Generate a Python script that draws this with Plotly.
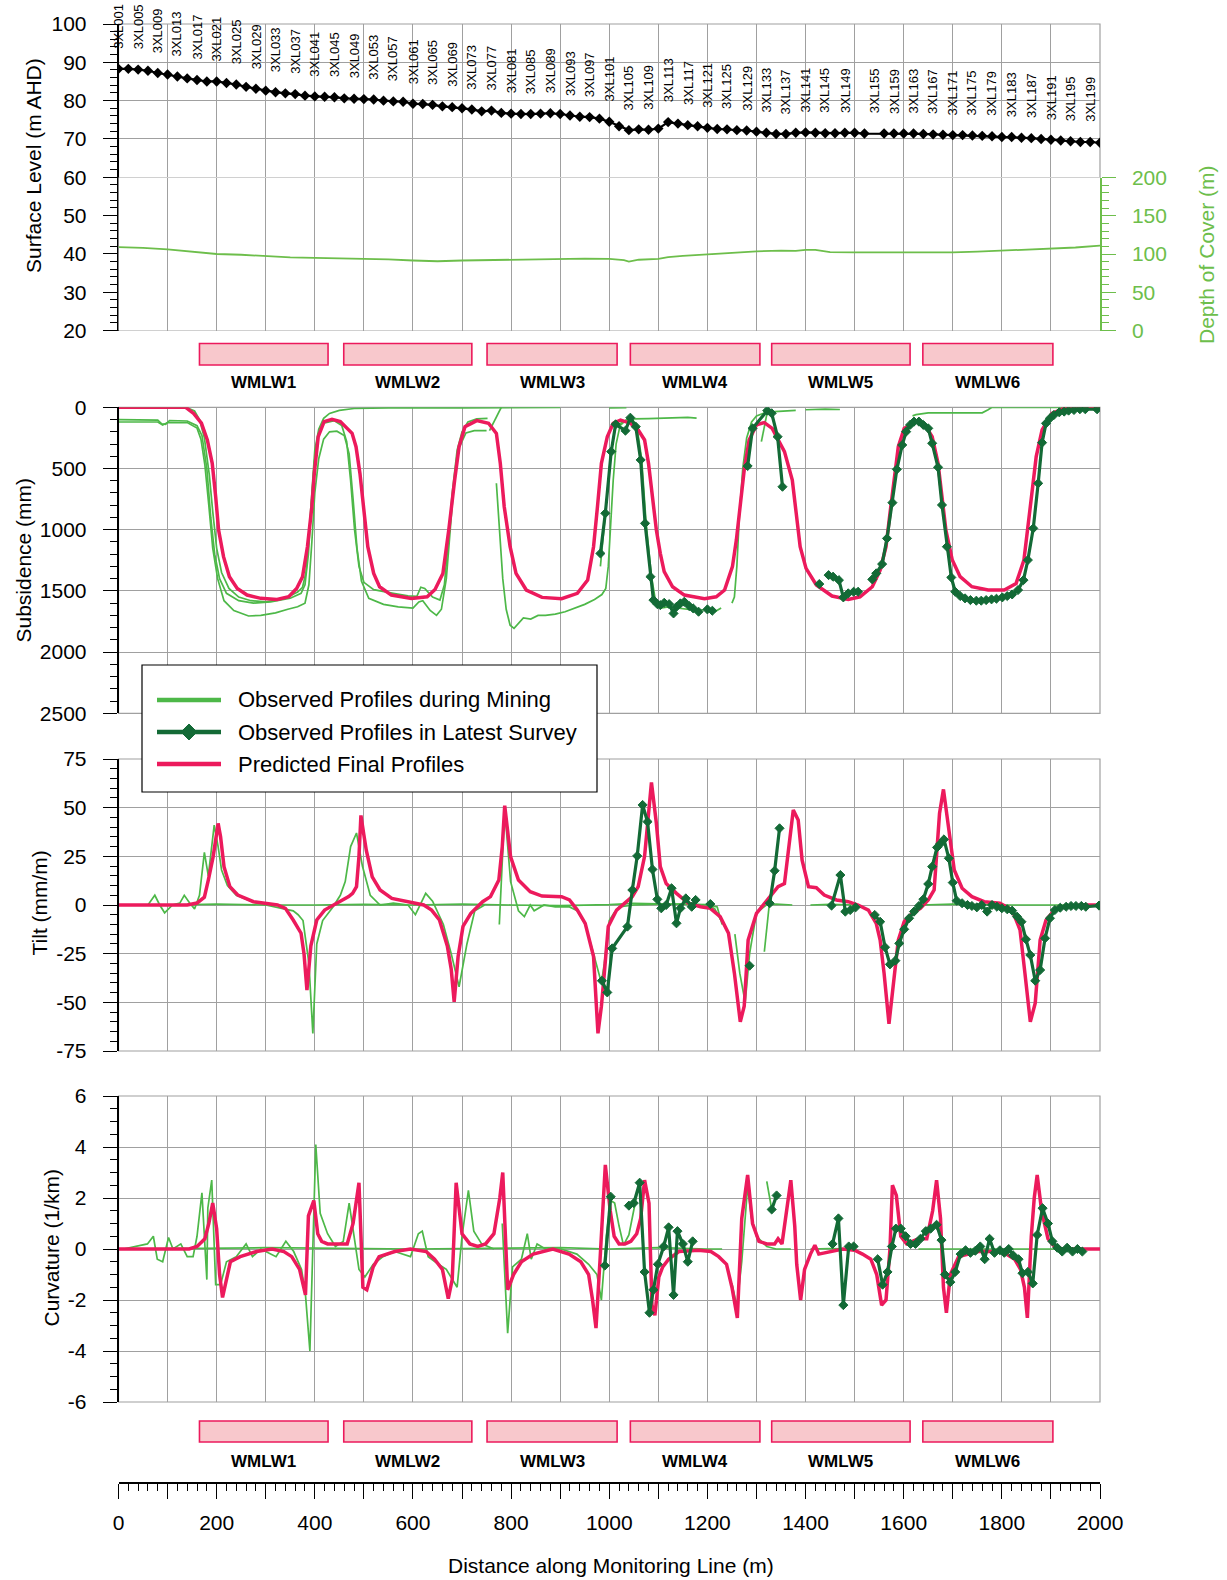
import numpy as np
import plotly.graph_objects as go

# ---------------- DATA ----------------
# Surface level (m AHD) along the line
surf_x = list(range(0, 1021, 20)) + list(range(1040, 1521, 20)) + list(range(1560, 2001, 20))
surf_y = [88.3, 88.3, 88.1, 87.8, 87.2, 86.8, 86.3, 85.8, 85.4, 85.0, 85.0, 84.6, 84.2, 83.6, 83.1,
          82.6, 82.2, 81.9, 81.7, 81.3, 81.1, 81.0, 80.9, 80.6, 80.5, 80.4, 80.3, 80.0, 79.8, 79.7,
          79.2, 79.1, 78.9, 78.5, 78.3, 78.0, 77.7, 77.2, 77.4, 76.8, 76.6, 76.5, 76.5, 76.6, 76.7,
          76.5, 76.1, 75.8, 75.7, 75.3, 74.5, 73.3,
          72.3, 72.5, 72.4, 72.7, 74.4, 74.0, 73.6, 73.3, 72.9, 72.6, 72.5, 72.3, 72.2, 71.9, 71.6,
          71.3, 71.3, 71.6, 71.7, 71.6, 71.5, 71.5, 71.6, 71.6, 71.4,
          71.4, 71.4, 71.4, 71.4, 71.3, 71.2, 71.1, 71.0, 71.0, 70.9, 70.8, 70.7, 70.5, 70.5, 70.3,
          70.2, 70.0, 69.8, 69.6, 69.4, 69.2, 69.2, 69.0]

# Depth of cover (m)
cover = [(0, 109), (50, 108), (100, 106), (150, 103), (200, 100), (250, 99), (300, 97), (350, 95.5),
         (400, 95), (450, 94.5), (500, 94), (550, 93), (600, 91.5), (650, 90.5), (700, 91.5), (750, 92),
         (800, 93), (850, 93.5), (900, 94), (950, 94), (1000, 93.5), (1030, 92), (1040, 90), (1060, 92.5),
         (1100, 93.5), (1120, 96), (1150, 97.5), (1200, 99.5), (1250, 102), (1300, 103.5), (1350, 104.5),
         (1380, 104), (1400, 105.5), (1420, 105.5), (1450, 102.5), (1500, 102), (1600, 102), (1700, 102),
         (1750, 103), (1800, 104.5), (1850, 105.5), (1900, 107), (1950, 108.5), (2000, 111)]

# Survey marks labelled on the top panel
station_ids = list(range(1, 150, 4)) + list(range(155, 200, 4))

# Longwall panels
panel_names = ["WMLW1", "WMLW2", "WMLW3", "WMLW4", "WMLW5", "WMLW6"]
panel_start = [165, 459, 751, 1043, 1331, 1639]
panel_end = [427, 720, 1016, 1307, 1613, 1904]

# Subsidence (mm)
sub_pred = [(0, 0), (100, 0), (137, 0), (153, 50), (169, 130), (181, 267), (191, 458), (198, 730), (204, 1003),
            (214, 1220), (226, 1384), (242, 1480), (262, 1534), (290, 1561), (323, 1570), (347, 1548), (363, 1480),
            (375, 1384), (385, 1139), (394, 812), (399, 540), (407, 240), (419, 117), (435, 98), (452, 117),
            (476, 213), (484, 322), (492, 540), (500, 867), (508, 1139), (520, 1357), (532, 1466), (556, 1534),
            (597, 1561), (629, 1548), (645, 1488), (661, 1357), (673, 1003), (685, 594), (694, 322), (706, 158),
            (730, 109), (754, 130), (770, 213), (778, 458), (786, 812), (798, 1139), (810, 1357), (831, 1493),
            (863, 1553), (903, 1564), (935, 1520), (956, 1411), (968, 1139), (976, 812), (984, 458), (996, 240),
            (1008, 130), (1023, 104), (1043, 130), (1059, 185), (1072, 267), (1080, 458), (1088, 730), (1096, 1003),
            (1104, 1193), (1112, 1343), (1129, 1466), (1153, 1534), (1194, 1564), (1218, 1548), (1235, 1493),
            (1251, 1302), (1259, 1085), (1267, 812), (1275, 512), (1285, 267), (1300, 144), (1316, 125), (1332, 172),
            (1357, 362), (1373, 594), (1381, 867), (1389, 1139), (1401, 1316), (1422, 1452), (1454, 1542),
            (1487, 1570), (1511, 1548), (1536, 1466), (1552, 1330), (1564, 1139), (1572, 867), (1581, 594),
            (1589, 322), (1601, 172), (1625, 117), (1642, 136), (1658, 240), (1670, 458), (1678, 730), (1686, 1003),
            (1699, 1248), (1715, 1384), (1739, 1466), (1772, 1493), (1805, 1493), (1829, 1439), (1845, 1248),
            (1853, 1003), (1862, 676), (1870, 403), (1882, 185), (1902, 49), (1927, 8), (2000, 0)]

sub_obs = [
    [(0, 0), (80, 0), (140, 5), (155, 30), (165, 100), (175, 250), (185, 550), (192, 850), (200, 1150), (210, 1350),
     (225, 1480), (245, 1550), (270, 1580), (300, 1590), (330, 1570), (350, 1540), (365, 1510), (375, 1470),
     (382, 1350), (388, 1050), (394, 650), (400, 350), (408, 180), (418, 90), (430, 50), (450, 25), (480, 10),
     (550, 5), (700, 4), (900, 0)],
    [(0, 100), (40, 100), (80, 105), (88, 135), (96, 140), (104, 108), (140, 112), (160, 150), (170, 230), (180, 500),
     (188, 900), (196, 1200), (206, 1400), (220, 1520), (245, 1580), (275, 1600), (310, 1590), (350, 1560),
     (372, 1520), (380, 1450), (387, 1200), (393, 800), (399, 450), (407, 230), (418, 130), (440, 110), (455, 150),
     (465, 280), (473, 600), (481, 1000), (490, 1300), (500, 1430), (520, 1490), (560, 1520), (590, 1540),
     (608, 1545), (616, 1470), (624, 1480), (640, 1550), (655, 1575), (664, 1450), (672, 1100), (680, 700),
     (690, 350), (700, 200), (712, 120), (730, 95), (752, 90)],
    [(0, 120), (40, 122), (80, 120), (90, 145), (100, 125), (140, 125), (160, 170), (168, 260), (176, 470), (184, 800),
     (192, 1150), (202, 1400), (215, 1580), (235, 1660), (265, 1705), (290, 1700), (320, 1680), (345, 1650),
     (365, 1630), (380, 1600), (388, 1450), (394, 1100), (400, 700), (408, 420), (418, 260), (430, 200), (445, 195),
     (460, 230), (470, 380), (478, 750), (486, 1150), (495, 1420), (510, 1560), (540, 1610), (570, 1630),
     (600, 1640), (612, 1590), (620, 1580), (635, 1660), (648, 1700), (658, 1650), (668, 1400), (676, 1000),
     (684, 600), (694, 330), (708, 210), (725, 190), (750, 190)],
    [(756, 190), (768, 100), (780, 0)],
    [(770, 620), (776, 1000), (783, 1400), (790, 1650), (798, 1780), (806, 1806), (812, 1780), (825, 1720),
     (840, 1730), (855, 1700), (870, 1700), (890, 1690), (910, 1670), (930, 1640), (950, 1610), (970, 1570),
     (985, 1530), (993, 1480), (998, 1300), (1003, 950), (1008, 600), (1014, 300), (1022, 150), (1035, 100),
     (1050, 95), (1080, 92), (1110, 88), (1140, 85), (1160, 82), (1178, 88)],
    [(982, 1300), (992, 850), (1004, 350), (1013, 150), (1030, 120), (1045, 90), (1056, 150), (1066, 420),
     (1075, 940), (1086, 1380), (1095, 1600), (1105, 1640), (1120, 1630), (1140, 1640), (1160, 1650),
     (1180, 1660), (1200, 1650), (1215, 1670), (1228, 1640)],
    [(1250, 1600), (1255, 1550), (1260, 1300), (1265, 900), (1272, 500), (1280, 250), (1290, 120), (1300, 70),
     (1320, 40), (1340, 35), (1360, 30), (1380, 25)],
    [(1310, 280), (1322, 40)],
    [(1000, 5), (1035, 3)],
    [(1400, 20), (1440, 15), (1470, 18)],
    [(1618, 70), (1625, 60), (1650, 45), (1700, 45), (1760, 45), (1772, 20), (1780, 0), (1850, 0), (1900, 0),
     (2000, 0)],
]

sub_latest = [(982, 1194), (992, 866), (1004, 362), (1013, 139), (1033, 191), (1043, 85), (1054, 158), (1064, 430),
              (1073, 948), (1084, 1384), (1090, 1575), (1098, 1608), (1104, 1616), (1112, 1597), (1122, 1608),
              (1131, 1684), (1137, 1630), (1145, 1602), (1153, 1589), (1163, 1624), (1171, 1643), (1182, 1670),
              (None, None), (1200, 1651), (1210, 1662), (None, None),
              (1282, 480), (1292, 172), (1322, 27), (1331, 49), (1343, 240), (1353, 649), (None, None),
              (1428, 1444), (None, None),
              (1447, 1371), (1456, 1384), (1468, 1412), (1477, 1553), (1487, 1520), (1498, 1507), (1507, 1507),
              (None, None),
              (1536, 1406), (1544, 1357), (1556, 1281), (1566, 1071), (1577, 779), (1586, 507), (1597, 308),
              (1605, 199), (1613, 144), (1621, 117), (1631, 117), (1640, 144), (1650, 172), (1658, 294),
              (1670, 490), (1678, 798), (1688, 1139), (1697, 1390), (1705, 1507), (1715, 1542), (1725, 1561),
              (1736, 1575), (1748, 1580), (1758, 1580), (1768, 1575), (1779, 1569), (1789, 1564), (1801, 1553),
              (1811, 1542), (1821, 1529), (1833, 1493), (1844, 1412), (1853, 1248), (1864, 989), (1874, 621),
              (1882, 289), (1890, 131), (1898, 90), (1906, 63), (1917, 41), (1927, 35), (1936, 27), (1947, 22),
              (1959, 16), (1970, 16), (1994, 16)]

# Tilt (mm/m)
tilt_pred = [(0, 0), (140, 0), (160, 1), (175, 4), (183, 12.8), (193, 25), (203, 41.9), (208, 35), (215, 19.7),
             (227, 9.4), (243, 5.1), (275, 1.7), (324, 0), (340, -1.7), (356, -7.7), (372, -14.5), (378, -25),
             (384, -43.7), (392, -21), (404, -7.7), (420, -2.6), (444, 0.9), (469, 4.3), (477, 6), (485, 9.4),
             (490, 25), (494, 46), (500, 36), (505, 28), (517, 14.5), (533, 7.7), (557, 3.4), (597, 1.2), (622, 0),
             (638, -2.6), (654, -7.7), (670, -21), (678, -33), (684, -49.7), (692, -26.5), (702, -11), (718, -4.3),
             (742, 1.7), (758, 4.3), (775, 12.8), (782, 30), (787, 51), (799, 24.7), (815, 12.8), (839, 6.8),
             (863, 4.6), (903, 4.3), (919, 2.6), (935, -2.6), (951, -9.4), (968, -26.5), (977, -65.9), (984, -52),
             (990, -35), (998, -11), (1015, -2.6), (1031, 0.9), (1047, 4.3), (1059, 9.4), (1072, 25), (1086, 63),
             (1096, 42), (1104, 19.7), (1116, 11), (1137, 6), (1161, 0.9), (1186, -0.9), (1206, -1.7), (1226, -6),
             (1243, -14.5), (1255, -35), (1267, -60), (1275, -52), (1283, -18), (1300, -4.3), (1316, 0.9),
             (1332, 6), (1344, 9.4), (1357, 11), (1365, 28), (1375, 48.8), (1385, 43.7), (1393, 23), (1406, 9.4),
             (1422, 8.9), (1438, 5.1), (1463, 2.6), (1487, 1.7), (1507, 0), (1528, -2.6), (1544, -9.4),
             (1552, -18), (1560, -35), (1570, -61), (1581, -35), (1589, -18), (1601, -8.6), (1617, -4.3),
             (1634, -1.7), (1650, 2.6), (1662, 7.7), (1673, 47), (1681, 59.4), (1691, 40), (1703, 18), (1719, 8.6),
             (1739, 4.3), (1764, 1.7), (1796, 0.9), (1821, -2.6), (1837, -12.8), (1847, -35), (1858, -60),
             (1868, -50.5), (1878, -18), (1890, -7.7), (1910, -1.7), (1959, 0), (2000, 0)]

tilt_obs = [
    [(0, 0), (100, 0), (200, 0.5), (300, 0), (400, 0), (500, 0.3), (600, 0), (700, 0.5), (800, 0), (900, -0.3),
     (1000, 0.2), (1050, 0.8), (1100, 0.6), (1150, 0.5), (1200, 0.2), (1215, -2), (1228, -8)],
    [(0, 0), (60, 0), (74, 5), (84, 0), (94, -4), (110, 0), (125, 1), (134, 5), (145, 1), (155, -2), (165, 5),
     (175, 27), (183, 15), (195, 41), (203, 30), (210, 18), (222, 10), (240, 5), (260, 3), (280, 1), (300, 0),
     (320, -1), (340, -2), (356, -3), (366, -5), (376, -8), (388, -30), (396, -66), (404, -20), (416, -8),
     (437, -1), (452, 5), (462, 12), (473, 30), (485, 37), (497, 20), (513, 5), (533, 0), (560, 1), (590, 0),
     (605, -5), (626, 6), (640, 2), (662, -10), (678, -25), (694, -42), (710, -20), (726, -3), (746, 0)],
    [(776, -10), (787, 49), (799, 12), (815, -3), (827, -6), (839, 0), (847, -3), (867, 0), (890, -1), (919, -1),
     (935, -3), (951, -10), (968, -25), (984, -40), (990, -30), (1000, -8), (1010, -4), (1020, -1), (1050, 0),
     (1100, 0.5), (1150, 0.5), (1200, 0), (1220, -1), (1230, -10)],
    [(1256, -15), (1266, -35), (1277, -50), (1286, -25), (1300, -4), (1320, 0), (1340, 0.5), (1373, 0)],
    [(1316, -24), (1326, 0)],
    [(1410, 0), (1450, 0.3), (1503, 0)],
    [(1634, 0), (1700, 0.5), (1800, 0), (1900, 0), (2000, 0)],
]

tilt_latest = [(985, -38.9), (996, -44.9), (1006, -22.3), (1037, -11.1), (1047, 7.7), (1057, 25.2), (1068, 51.4),
               (1078, 42.8), (1088, 18.3), (1098, 2.9), (1106, -1.7), (1116, 0), (1127, 8.6), (1137, -9.4),
               (1145, -1.7), (1156, 3.4), (1168, -0.9), (1176, 2.6), (None, None), (1206, 0.5), (None, None),
               (1286, -31.2), (None, None), (1327, 0.9), (1337, 17.6), (1347, 39.4), (None, None),
               (1453, -0.3), (1471, 15.4), (1481, -3.4), (1491, -2.6), (1502, -1.2), (None, None),
               (1541, -5.1), (1552, -8.6), (1562, -21.7), (1572, -30.5), (1583, -28.6), (1591, -19.7),
               (1601, -12.5), (1611, -6.8), (1621, -3.4), (1631, -0.5), (1640, 2.9), (1650, 10.8), (1658, 19.7),
               (1668, 29.6), (1674, 31.3), (1682, 33.7), (1692, 24), (1700, 11.5), (1708, 2.2), (1719, 0.9),
               (1730, 0), (1739, -0.5), (1749, -1.2), (1759, 0), (1770, -3.4), (1780, 0), (1790, -0.9),
               (1800, -1.7), (1811, -2.2), (1821, -2.9), (1831, -6), (1840, -8.6), (1849, -17.6), (1858, -25.7),
               (1868, -38.9), (1878, -33.4), (1888, -17.1), (1898, -6.8), (1908, -2.6), (1919, -1.4), (1931, -0.9),
               (1941, -0.5), (1951, -0.5), (1962, -0.5), (1971, -0.9), (1998, -0.3)]

# Curvature (1/km)
curv_pred = [(0, 0), (144, 0), (160, 0.1), (176, 0.4), (184, 1.0), (192, 1.8), (200, 0.8), (206, -1.0), (212, -1.9),
             (220, -1.2), (228, -0.5), (248, -0.3), (281, -0.1), (313, 0), (337, -0.1), (353, -0.3), (369, -0.8),
             (381, -1.8), (387, 1.3), (398, 1.9), (406, 0.6), (414, 0.3), (426, 0.2), (466, 0.2), (478, 1.0),
             (490, 2.6), (498, -1.5), (506, -1.6), (519, -0.7), (531, -0.3), (563, -0.1), (595, 0), (627, -0.1),
             (644, -0.4), (660, -0.8), (672, -1.95), (680, -1.2), (688, 2.6), (700, 0.6), (716, 0.2), (732, 0.1),
             (748, 0.2), (765, 0.6), (777, 2.0), (783, 3.0), (793, -1.6), (805, -1.0), (821, -0.5), (845, -0.2),
             (885, 0), (918, -0.2), (942, -0.5), (958, -1.0), (966, -2.0), (973, -3.1), (981, -0.5), (992, 3.3),
             (1002, 1.5), (1010, 0.5), (1020, 0.2), (1032, 0.2), (1044, 0.3), (1056, 0.6), (1064, 1.2), (1072, 2.7),
             (1081, 1.8), (1087, -2.2), (1093, -2.6), (1101, -1.1), (1109, -0.7), (1121, -0.4), (1142, -0.1),
             (1182, -0.05), (1207, -0.1), (1223, -0.3), (1239, -0.6), (1250, -1.5), (1261, -2.7), (1270, 1.2),
             (1282, 2.9), (1292, 1.0), (1305, 0.3), (1321, 0.2), (1337, 0.2), (1344, 0.4), (1352, 0.2), (1362, 1.5),
             (1370, 2.7), (1378, 0.9), (1382, -0.6), (1390, -2.0), (1398, -0.8), (1410, -0.2), (1419, 0.15),
             (1427, -0.2), (1451, -0.1), (1476, 0), (1500, -0.05), (1516, -0.2), (1533, -0.4), (1545, -1.0),
             (1555, -2.2), (1564, -2.0), (1572, 0.0), (1577, 2.5), (1585, 2.1), (1594, 0.5), (1606, 0.2),
             (1630, 0.4), (1647, 0.4), (1659, 1.5), (1667, 2.7), (1675, 1.2), (1681, -1.5), (1687, -2.5),
             (1695, -1.0), (1712, -0.3), (1752, -0.1), (1793, -0.1), (1809, -0.2), (1826, -0.4), (1838, -0.8),
             (1846, -1.5), (1852, -2.7), (1860, 0.5), (1866, 2.0), (1872, 2.9), (1881, 1.5), (1894, 0.4),
             (1907, 0.1), (1923, 0), (2000, 0)]

curv_obs = [
    [(0, 0), (300, 0.05), (600, 0), (900, 0.05), (1000, 0), (1100, 0.05), (1200, 0), (1230, 0)],
    [(0, 0), (10, 0), (59, 0.2), (71, 0.5), (79, -0.4), (90, -0.5), (102, 0.45), (111, 0), (127, 0.2), (140, -0.3),
     (152, -0.3), (160, 0.5), (170, 2.2), (180, -1.2), (182, 1.6), (190, 2.7), (198, -1.4), (208, -1.4),
     (220, -0.5), (240, -0.3), (260, 0.2), (273, -0.3), (290, 0), (321, -0.3), (341, 0.3), (357, -0.1),
     (373, -0.8), (381, -1.8), (390, -4.0), (402, 4.1), (411, 1.4), (426, 0.6), (442, 0.1), (458, 0.3),
     (470, 1.8), (481, 0.3), (490, -0.8), (502, -1.1), (519, -0.6), (539, -0.3), (563, -0.1), (595, -0.3),
     (611, 0.6), (619, 0.7), (631, -0.3), (652, -0.6), (668, -0.8), (690, -1.5), (700, 0.5), (713, 2.3),
     (724, 0.7), (740, 0.2), (765, 0)],
    [(782, 1.0), (793, -3.3), (803, -0.7), (821, -0.4), (833, 0.6), (841, -0.4), (853, 0.2), (870, 0), (902, 0),
     (934, -0.2), (958, -0.6), (975, -1.0), (984, -2.0), (994, 0.5), (1003, 1.9), (1011, 1.8), (1020, 0.9),
     (1029, 0.15), (1040, 0.55), (1052, 1.65), (1060, 2.5)],
    [(1250, -1.35), (1260, -2.25), (1270, -0.5), (1282, 2.45), (1290, 1.2), (1300, 0.5), (1321, 0.1), (1340, 0),
     (1370, 0)],
    [(1321, 2.65), (1331, 1.55)],
    [(1410, 0), (1450, 0.02), (1500, 0)],
    [(1630, 0), (1700, 0), (1800, 0), (1900, 0), (2000, 0)],
]

curv_latest = [(991, -0.65), (1003, 2.05), (None, None), (1040, 1.7), (1050, 1.8), (1062, 2.6), (1072, -0.9),
               (1082, -2.5), (1090, -1.6), (1099, -0.6), (1111, 0.1), (1121, 0.85), (1131, -1.8), (1139, 0.7),
               (1150, 0.2), (1160, -0.5), (1170, 0.3), (None, None), (1331, 1.55), (1341, 2.1), (None, None),
               (1455, 0.2), (1467, 1.2), (1477, -2.2), (1488, 0.1), (1498, 0.1), (None, None),
               (1547, -0.4), (1557, -1.4), (1567, -0.9), (1576, 0.1), (1584, 0.8), (1594, 0.8), (1604, 0.5),
               (1614, 0.2), (1624, 0.2), (1634, 0.4), (1645, 0.7), (1655, 0.8), (1667, 0.95), (1677, 0.35),
               (1684, -1.0), (1695, -1.3), (1705, -0.9), (1716, -0.2), (1726, -0.05), (1736, -0.15), (1746, -0.07),
               (1756, 0.1), (1765, -0.4), (1775, 0.4), (1785, -0.15), (1796, -0.05), (1805, -0.15), (1814, 0),
               (1823, -0.25), (1834, -0.4), (1842, -0.95), (1853, -0.9), (1863, -1.35), (1872, 0.55), (1883, 1.6),
               (1894, 1.0), (1903, 0.3), (1913, 0.05), (1923, -0.1), (1933, 0.05), (1944, -0.1), (1954, 0),
               (1964, -0.1)]

# Tick labels (hyphen minus as in the original)
tilt_ticks = [-75, -50, -25, 0, 25, 50, 75]
curv_ticks = [-6, -4, -2, 0, 2, 4, 6]

legend_labels = ["Observed Profiles during Mining", "Observed Profiles in Latest Survey", "Predicted Final Profiles"]

# ---------------- STYLE / LAYOUT ----------------
W, H = 1227, 1580
FONT = "Liberation Sans, Arial, sans-serif"
PINK = "#EC1A5C"
LG = "#4DB848"
DG = "#136A36"
DOC = "#6DBE4B"
GRID = "#A0A0A0"
RECT_FILL = "#F8C8CC"


def py(p):
    return 1 - p / H


def dom(top, bottom):
    return [1 - bottom / H, 1 - top / H]


def unzip(pairs):
    return [p[0] for p in pairs], [p[1] for p in pairs]


XD = [118.5 / W, 1100 / W]
P1 = (24, 330.5)
PDC = (177.5, 330.5)
P2 = (407.3, 713.3)
P3 = (759, 1051)
P4 = (1096, 1402)

fig = go.Figure()

# Panel 1
cx, cy = unzip(cover)
fig.add_trace(go.Scatter(x=cx, y=cy, xaxis="x", yaxis="y6", mode="lines",
                         line=dict(color=DOC, width=1.8), hoverinfo="skip"))
fig.add_trace(go.Scatter(x=surf_x, y=surf_y, xaxis="x", yaxis="y", mode="lines+markers",
                         line=dict(color="black", width=2.2),
                         marker=dict(symbol="diamond", size=8, color="black")))


def add_panel(obs, pred, latest, ax):
    xa, ya = ax
    for line in obs:
        x, y = unzip(line)
        fig.add_trace(go.Scatter(x=x, y=y, xaxis=xa, yaxis=ya, mode="lines",
                                 line=dict(color=LG, width=1.7)))
    x, y = unzip(pred)
    fig.add_trace(go.Scatter(x=x, y=y, xaxis=xa, yaxis=ya, mode="lines",
                             line=dict(color=PINK, width=3.5)))
    x, y = unzip(latest)
    fig.add_trace(go.Scatter(x=x, y=y, xaxis=xa, yaxis=ya, mode="lines+markers",
                             line=dict(color=DG, width=3.2),
                             marker=dict(symbol="diamond", size=7, color=DG,
                                         line=dict(color=DG, width=1))))


add_panel(sub_obs, sub_pred, sub_latest, ("x2", "y2"))
add_panel(tilt_obs, tilt_pred, tilt_latest, ("x3", "y3"))
add_panel(curv_obs, curv_pred, curv_latest, ("x4", "y4"))

# invisible trace to create ruler subplot
fig.add_trace(go.Scatter(x=[0, 2000], y=[0.5, 0.5], xaxis="x5", yaxis="y5", mode="lines",
                         line=dict(color="rgba(0,0,0,0)", width=0), hoverinfo="skip"))

tickfont = dict(family=FONT, size=21, color="black")

common_x = dict(range=[0, 2000], showticklabels=False, ticks="", showgrid=True, gridcolor=GRID,
                gridwidth=1, dtick=100, tick0=0, zeroline=False, showline=False, domain=XD,
                automargin=False)


def yax(d, rng, dtick, mdtick, anchor, ticks=None):
    a = dict(domain=dom(*d), range=rng, anchor=anchor, dtick=dtick, tick0=0, ticks="outside",
             ticklen=14, tickwidth=1.2, tickcolor="black", showline=True, linecolor="black",
             linewidth=1.5, showgrid=True, gridcolor=GRID, gridwidth=1, zeroline=False,
             tickfont=tickfont, ticklabelstandoff=12, automargin=False,
             minor=dict(tickmode="linear", dtick=mdtick, tick0=0, ticks="outside", ticklen=7,
                        tickcolor="black", tickwidth=1.2, showgrid=False))
    if ticks is not None:
        a.update(tickmode="array", tickvals=ticks, ticktext=[str(t) for t in ticks])
    return a


ruler_vals = list(range(0, 2001, 100))
ruler_text = [str(v) if v % 200 == 0 else "" for v in ruler_vals]

fig.update_layout(
    width=W, height=H, margin=dict(l=0, r=0, t=0, b=0, autoexpand=False),
    paper_bgcolor="white", plot_bgcolor="white", showlegend=False,
    font=dict(family=FONT, size=21, color="black"),
    xaxis=dict(**common_x, anchor="y"),
    xaxis2=dict(**common_x, anchor="y2", matches="x"),
    xaxis3=dict(**common_x, anchor="y3", matches="x"),
    xaxis4=dict(**common_x, anchor="y4", matches="x"),
    xaxis5=dict(domain=XD, anchor="y5", range=[0, 2000], tickmode="array", tickvals=ruler_vals,
                ticktext=ruler_text, ticks="outside", ticklen=15, tickwidth=1.2, tickcolor="black",
                showline=True, linecolor="black", linewidth=1.5, showgrid=False, zeroline=False,
                tickfont=tickfont, ticklabelstandoff=6, automargin=False,
                minor=dict(tickmode="linear", tick0=0, dtick=20, ticks="outside", ticklen=7,
                           tickcolor="black", tickwidth=1.2, showgrid=False)),
    yaxis=yax(P1, [20, 100], 10, 2, "x"),
    yaxis2=yax(P2, [2500, 0], 500, 100, "x2"),
    yaxis3=yax(P3, [-75, 75], 25, 5, "x3", tilt_ticks),
    yaxis4=yax(P4, [-6, 6], 2, 0.5, "x4", curv_ticks),
    yaxis5=dict(domain=dom(1481, 1482), anchor="x5", range=[0, 1], visible=False, automargin=False),
    yaxis6=dict(domain=dom(*PDC), range=[0, 200], anchor="x", side="right", dtick=50, tick0=0,
                ticks="outside", ticklen=14, tickwidth=1.2, tickcolor=DOC, showline=True, linecolor=DOC,
                linewidth=1.5, showgrid=False, zeroline=False, automargin=False,
                tickfont=dict(family=FONT, size=21, color=DOC), ticklabelstandoff=12,
                minor=dict(dtick=10, tick0=0, ticks="outside", ticklen=7, tickcolor=DOC, tickwidth=1.2)),
)

shapes = []
# panel frames
for xa, ya in [("x", "y"), ("x2", "y2"), ("x3", "y3"), ("x4", "y4")]:
    shapes.append(dict(type="rect", xref=xa + " domain", yref=ya + " domain", x0=0, x1=1, y0=0, y1=1,
                       line=dict(color=GRID, width=1.2), layer="below"))

annotations = []
# longwall panel boxes (top and bottom)
for (rt, rb, ly) in [(343.5, 365, 383), (1421, 1442, 1461)]:
    for name, s, e in zip(panel_names, panel_start, panel_end):
        shapes.append(dict(type="rect", xref="x", yref="paper", x0=s, x1=e, y0=py(rb), y1=py(rt),
                           fillcolor=RECT_FILL, line=dict(color=PINK, width=1.6), layer="above"))
        annotations.append(dict(x=(s + e) / 2, y=py(ly), xref="x", yref="paper", text="<b>%s</b>" % name,
                                showarrow=False, font=dict(family=FONT, size=17, color="black"),
                                xanchor="center", yanchor="middle"))

# station labels
st_x = [(n - 1) * 10 for n in station_ids]
st_y = np.interp(st_x, surf_x, surf_y)
for n, sx, sy in zip(station_ids, st_x, st_y):
    annotations.append(dict(x=sx, y=float(sy), xref="x", yref="y", text="3XL%03d" % n, textangle=-90,
                            showarrow=False, xanchor="center", yanchor="bottom", yshift=18,
                            font=dict(family=FONT, size=13, color="black")))

# axis titles
for text, x, y, col in [("Surface Level (m AHD)", 33, 166, "black"),
                        ("Subsidence (mm)", 22.5, 560, "black"),
                        ("Tilt (mm/m)", 38.5, 903, "black"),
                        ("Curvature (1/km)", 50.5, 1248, "black"),
                        ("Depth of Cover (m)", 1207, 255, DOC)]:
    annotations.append(dict(x=x / W, y=py(y), xref="paper", yref="paper", text=text, textangle=-90,
                            showarrow=False, xanchor="center", yanchor="middle",
                            font=dict(family=FONT, size=21, color=col)))
annotations.append(dict(x=611 / W, y=py(1565), xref="paper", yref="paper",
                        text="Distance along Monitoring Line (m)", showarrow=False,
                        xanchor="center", yanchor="middle", font=dict(family=FONT, size=21, color="black")))

# manual legend
LB = dict(x0=142, x1=597, y0=665, y1=792)
shapes.append(dict(type="rect", xref="paper", yref="paper", x0=LB["x0"] / W, x1=LB["x1"] / W,
                   y0=py(LB["y1"]), y1=py(LB["y0"]), fillcolor="white", line=dict(color="black", width=1.2),
                   layer="above"))
rows = [700, 732, 764]
cols = [LG, DG, PINK]
for i, (ry, c, lab) in enumerate(zip(rows, cols, legend_labels)):
    shapes.append(dict(type="line", xref="paper", yref="paper", x0=157 / W, x1=221 / W, y0=py(ry), y1=py(ry),
                       line=dict(color=c, width=4.5), layer="above"))
    annotations.append(dict(x=236 / W, y=py(ry), xref="paper", yref="paper", text=lab, showarrow=False,
                            xanchor="left", yanchor="middle", font=dict(family=FONT, size=22, color="black")))
# diamond in legend
dx, dy, r = 189, 732, 8
path = "M %f,%f L %f,%f L %f,%f L %f,%f Z" % ((dx - r) / W, py(dy), dx / W, py(dy - r),
                                              (dx + r) / W, py(dy), dx / W, py(dy + r))
shapes.append(dict(type="path", xref="paper", yref="paper", path=path, fillcolor=DG,
                   line=dict(color=DG, width=1), layer="above"))

fig.update_layout(shapes=shapes, annotations=annotations)

fig.write_html("out.html", config={"displayModeBar": False},
               post_script="document.body.style.margin='0';document.body.style.padding='0';"
                           "document.body.style.overflow='hidden';"
                           "document.documentElement.style.overflow='hidden';")
